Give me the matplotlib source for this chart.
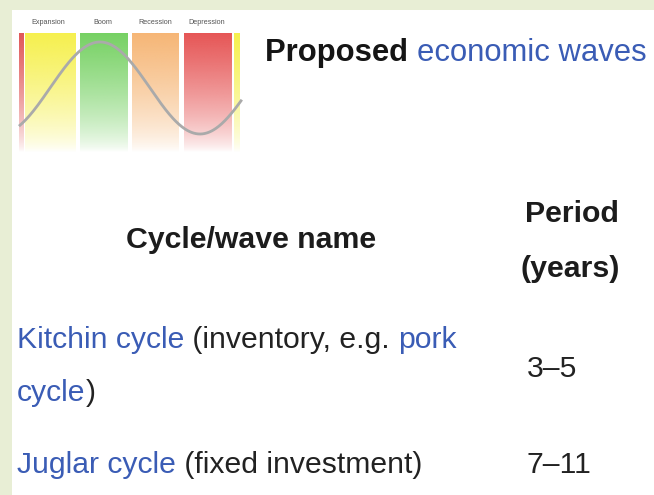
import numpy as np
import matplotlib
matplotlib.use("Agg")
import matplotlib.pyplot as plt
from matplotlib.colors import to_rgb

# ---- data ----
phases = ["Expansion", "Boom", "Recession", "Depression"]
phase_label_x = [48, 103, 155, 207]
band_edges = [(19, 24), (25, 76), (80, 128), (132, 179), (184, 232), (234, 240)]
band_colors = ["#e05858", "#f6f04e", "#76d163", "#f6b676", "#e65656", "#f6f04e"]

title_parts = [("Proposed ", "#151515", "bold"), ("economic waves", "#3a5cb5", "normal")]
header_name = "Cycle/wave name"
header_period = ["Period", "(years)"]

rows = [
    [[("Kitchin cycle", "link"), (" (inventory, e.g. ", "plain"), ("pork", "link")],
     [("cycle", "link"), (")", "plain")]],
    [[("Juglar cycle", "link"), (" (fixed investment)", "plain")]],
]
periods = ["3–5", "7–11"]

LINK = "#3a5cb5"
BG = "#e8eed5"
FONT = "Liberation Sans"

W, H = 654, 495
fig = plt.figure(figsize=(W / 100, H / 100), dpi=100)
fig.patch.set_facecolor(BG)
ax = fig.add_axes([0, 0, 1, 1])
ax.set_xlim(0, W)
ax.set_ylim(H, 0)
ax.axis("off")

# white panel
ax.add_patch(plt.Rectangle((12, 10), W - 12, H - 10, facecolor="white", edgecolor="none", zorder=0))

# icon bands with vertical fade
top, bottom = 33, 158
n = 120
fade = np.clip(np.linspace(1.0, -0.05, n), 0, 1) ** 0.7
for (x0, x1), c in zip(band_edges, band_colors):
    rgb = np.array(to_rgb(c))
    img = np.ones((n, 1, 4))
    img[:, 0, :3] = rgb
    img[:, 0, 3] = fade
    ax.imshow(img, extent=(x0, x1, bottom, top), aspect="auto", interpolation="bilinear", zorder=1)

for name, x in zip(phases, phase_label_x):
    ax.text(x, 23, name, ha="center", va="center", fontsize=5.2, color="#555555", family=FONT, zorder=3)

xs = np.linspace(20, 241, 300)
ys = 88 - 46 * np.sin(2 * np.pi * (xs - 50) / 200)
ax.plot(xs, ys, color="#aaaaaa", lw=2.0, zorder=2)

ax.set_xlim(0, W)
ax.set_ylim(H, 0)

fig.canvas.draw()
renderer = fig.canvas.get_renderer()


def draw_runs(x, y, runs, size):
    for txt, color, weight in runs:
        t = ax.text(x, y, txt, fontsize=size, color=color, fontweight=weight,
                    family=FONT, va="baseline", ha="left", zorder=4)
        bb = t.get_window_extent(renderer=renderer)
        x += bb.width


draw_runs(265, 61, title_parts, 22.3)

HS = 21.8
ax.text(251, 248, header_name, fontsize=HS, fontweight="bold", family=FONT,
        ha="center", va="baseline", color="#1c1c1c")
ax.text(572, 222, header_period[0], fontsize=HS, fontweight="bold", family=FONT,
        ha="center", va="baseline", color="#1c1c1c")
ax.text(570, 277, header_period[1], fontsize=HS, fontweight="bold", family=FONT,
        ha="center", va="baseline", color="#1c1c1c")

size = 21.7
line_y = [[348, 401], [473]]
period_y = [377, 473]
for lines, ly, per, py in zip(rows, line_y, periods, period_y):
    for runs, yy in zip(lines, ly):
        draw_runs(17, yy, [(t, LINK if k == "link" else "#222222", "normal") for t, k in runs], size)
    ax.text(527, py, per, fontsize=size, family=FONT, ha="left", va="baseline", color="#222222")

fig.savefig("out.png", dpi=100, facecolor=BG)
